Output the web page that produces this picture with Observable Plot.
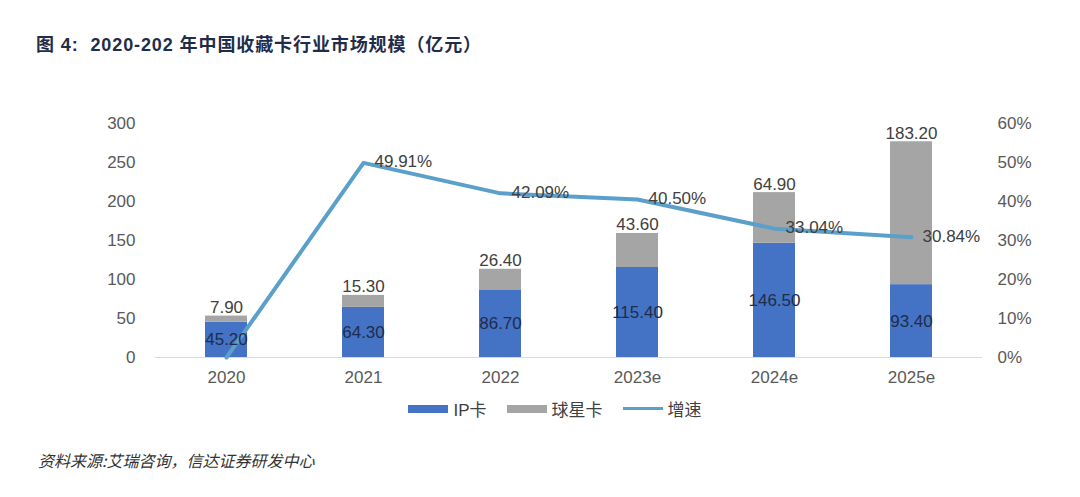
<!DOCTYPE html>
<html>
<head>
<meta charset="utf-8">
<script src="https://cdn.jsdelivr.net/npm/d3@7"></script>
<script src="https://cdn.jsdelivr.net/npm/@observablehq/plot@0.6"></script>
<style>
  html, body { margin: 0; padding: 0; background: #fff; }
  #page { position: relative; width: 1080px; height: 497px; overflow: hidden;
          font-family: "Liberation Sans", "Noto Sans CJK SC", sans-serif; }
  #title { position: absolute; left: 36px; top: 30px; font-size: 18px; font-weight: bold;
           color: #1f2d4a; white-space: nowrap; letter-spacing: 0.9px; }
  #chart { position: absolute; left: 0; top: 100px; }
  #legend { position: absolute; left: 0; width: 1110px; top: 396px; display: flex;
            justify-content: center; align-items: center; gap: 20px; font-size: 17px; color: #404040; }
  .item { display: flex; align-items: center; gap: 5px; }
  .sw { display: inline-block; width: 40px; }
  #source { position: absolute; left: 38px; top: 448px; font-size: 16px; font-style: italic;
            color: #333; font-family: "Noto Sans CJK SC", serif; }
</style>
</head>
<body>
<div id="page">
  <div id="title">图 4:&nbsp; 2020-202 年中国收藏卡行业市场规模（亿元）</div>
  <div id="chart"></div>
  <div id="legend"></div>
  <div id="source">资料来源:艾瑞咨询，信达证券研发中心</div>
</div>
<script>
// 中国收藏卡行业市场规模（亿元）与增速
const years = ["2020", "2021", "2022", "2023e", "2024e", "2025e"];
const ipCard = [45.2, 64.3, 86.7, 115.4, 146.5, 93.4];     // IP卡
const starCard = [7.9, 15.3, 26.4, 43.6, 64.9, 183.2];     // 球星卡
const growth = [0, 49.91, 42.09, 40.50, 33.04, 30.84];      // 增速 (%)
const leftTicks = [0, 50, 100, 150, 200, 250, 300];

const colors = { ip: "#4472C4", star: "#A5A5A5", growth: "#5B9FCB" };

// Right axis: 0–60% shares the 0–300 left scale (1% = 5 units)
const pctToY = p => p * 5;

const rows = years.map((year, i) => ({
  year, ip: ipCard[i], star: starCard[i], total: ipCard[i] + starCard[i],
  growth: growth[i], gy: pctToY(growth[i])
}));

const textColor = "#595959";

const plot = Plot.plot({
  width: 1080,
  height: 300,
  marginTop: 23,
  marginBottom: 43,
  marginLeft: 155,
  marginRight: 98,
  style: { fontSize: "17px", fontFamily: "Liberation Sans, Noto Sans CJK SC, sans-serif", color: textColor, background: "transparent" },
  x: { type: "band", domain: years, paddingInner: 0.69, paddingOuter: 0.345 },
  y: { domain: [0, 300] },
  marks: [
    Plot.axisX({ tickSize: 0, tickPadding: 13, label: null, fill: textColor }),
    Plot.axisY({ ticks: leftTicks, tickSize: 0, tickPadding: 20, label: null, fill: textColor }),
    Plot.axisY({ anchor: "right", ticks: leftTicks, tickFormat: d => `${d / 5}%`, tickSize: 0,
                 tickPadding: 15, label: null, fill: textColor }),
    Plot.ruleY([0], { stroke: "#D9D9D9", strokeWidth: 1 }),
    Plot.barY(rows, { x: "year", y1: 0, y2: "ip", fill: colors.ip }),
    Plot.barY(rows, { x: "year", y1: "ip", y2: "total", fill: colors.star }),
    // growth line sits above the bars but beneath every value label
    Plot.line(rows, { x: "year", y: "gy", stroke: colors.growth, strokeWidth: 4 }),
    Plot.text(rows, { x: "year", y: d => d.ip / 2, text: d => d.ip.toFixed(2), fill: "#1f2d4a" }),
    Plot.text(rows, { x: "year", y: "total", text: d => d.star.toFixed(2), fill: "#404040",
                      lineAnchor: "bottom", dy: -3 }),
    Plot.text(rows.filter(d => d.growth > 0), { x: "year", y: "gy", text: d => `${d.growth.toFixed(2)}%`,
                      fill: "#404040", textAnchor: "start", dx: 11, dy: -1 })
  ]
});
document.getElementById("chart").appendChild(plot);

// Legend
const legend = document.getElementById("legend");
[
  { label: "IP卡", color: colors.ip, h: 8 },
  { label: "球星卡", color: colors.star, h: 8 },
  { label: "增速", color: colors.growth, h: 3 }
].forEach(({ label, color, h }) => {
  const item = document.createElement("div");
  item.className = "item";
  const sw = document.createElement("span");
  sw.className = "sw";
  sw.style.height = h + "px";
  sw.style.background = color;
  const t = document.createElement("span");
  t.textContent = label;
  item.append(sw, t);
  legend.appendChild(item);
});
</script>
</body>
</html>
